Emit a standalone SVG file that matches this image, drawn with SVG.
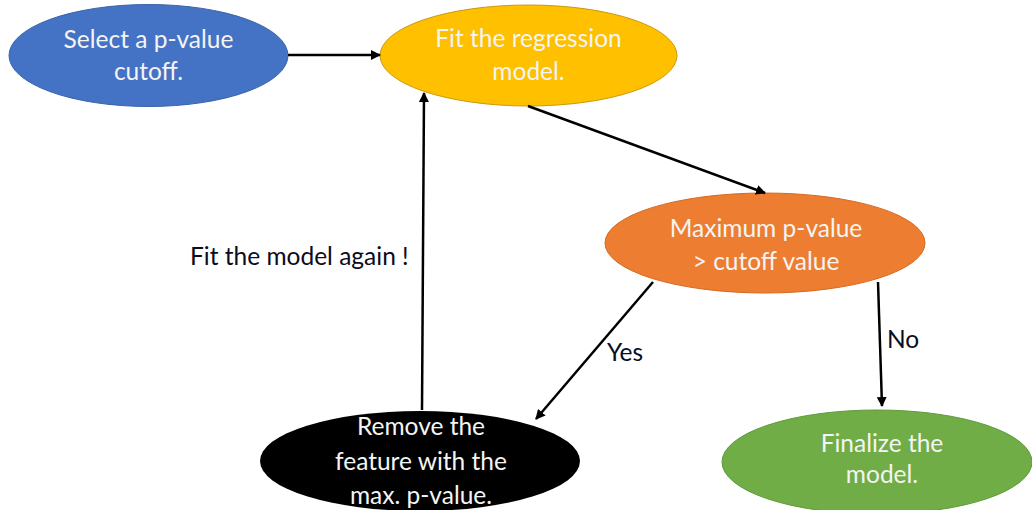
<svg xmlns="http://www.w3.org/2000/svg" width="1032" height="510" viewBox="0 0 1032 510">
  <style>
    .node text { font-family: Lato, "Open Sans", "Liberation Sans", sans-serif; font-size: 24.5px; fill: #f4f4f4; text-anchor: middle; }
    .lbl { font-family: Lato, "Open Sans", "Liberation Sans", sans-serif; font-size: 24.5px; fill: #0c0c20; }
    .edge { stroke: #000; stroke-width: 2.5; fill: none; marker-end: url(#arrow); }
  </style>
  <defs>
    <marker id="arrow" viewBox="0 0 10 10" refX="9" refY="5" markerWidth="4" markerHeight="4" orient="auto" markerUnits="strokeWidth">
      <path d="M0,0 L10,5 L0,10 z" fill="#000"/>
    </marker>
  </defs>
  <rect width="1032" height="510" fill="#fff"/>

  <g id="node-select" class="node">
    <ellipse cx="148.5" cy="55.5" rx="139.5" ry="51" fill="#4472C4" stroke="#3a62a8" stroke-width="1"/>
    <text x="148.5" y="48">Select a p-value</text>
    <text x="148.5" y="80">cutoff.</text>
  </g>

  <g id="node-fit" class="node">
    <ellipse cx="528.5" cy="55.5" rx="148.5" ry="50.5" fill="#FFC000" stroke="#c99a10" stroke-width="1"/>
    <text x="528.5" y="47">Fit the regression</text>
    <text x="528.5" y="80">model.</text>
  </g>

  <g id="node-check" class="node">
    <ellipse cx="765" cy="243" rx="160" ry="50" fill="#ED7D31" stroke="#d46a22" stroke-width="1"/>
    <text x="766" y="237">Maximum p-value</text>
    <text x="766" y="270">&gt; cutoff value</text>
  </g>

  <g id="node-remove" class="node">
    <ellipse cx="420" cy="461" rx="160" ry="50" fill="#000"/>
    <text x="421" y="435">Remove the</text>
    <text x="421" y="470">feature with the</text>
    <text x="421" y="504">max. p-value.</text>
  </g>

  <g id="node-final" class="node">
    <ellipse cx="877" cy="462" rx="155" ry="52" fill="#70AD47" stroke="#5f9a3a" stroke-width="1"/>
    <text x="882" y="452">Finalize the</text>
    <text x="882" y="483">model.</text>
  </g>

  <g id="connectors">
    <line class="edge" x1="288" y1="55" x2="380" y2="55"/>
    <line class="edge" x1="528" y1="106" x2="765" y2="193"/>
    <line class="edge" x1="653" y1="282" x2="536" y2="419"/>
    <line class="edge" x1="878" y1="282" x2="882" y2="406"/>
    <line class="edge" x1="422" y1="410" x2="424" y2="93"/>
  </g>

  <g id="labels">
    <text class="lbl" x="190" y="265">Fit the model again !</text>
    <text class="lbl" x="607" y="361">Yes</text>
    <text class="lbl" x="887" y="348">No</text>
  </g>
</svg>
